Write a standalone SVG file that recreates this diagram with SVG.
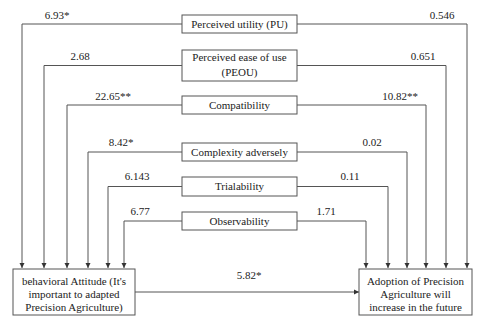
<svg xmlns="http://www.w3.org/2000/svg" width="480" height="322" viewBox="0 0 480 322">
<defs>
<marker id="ah" markerWidth="6" markerHeight="6" refX="5" refY="3" orient="auto" markerUnits="userSpaceOnUse">
<path d="M0,0.5 L5,3 L0,5.5 Z" fill="#333"/>
</marker>
<style>
text{font-family:"Liberation Serif","Times New Roman",serif;font-size:11px;fill:#222}
.c{text-anchor:middle}
rect{fill:#fff;stroke:#555;stroke-width:1}
.ln{fill:none;stroke:#555;stroke-width:1}
</style>
</defs>
<rect x="0" y="0" width="480" height="322" style="stroke:none"/>
<g id="connectors">
<path class="ln" d="M182,24 H22 V268" marker-end="url(#ah)"/>
<path class="ln" d="M182,65.5 H44 V268" marker-end="url(#ah)"/>
<path class="ln" d="M182,105 H67 V268" marker-end="url(#ah)"/>
<path class="ln" d="M182,152 H88 V268" marker-end="url(#ah)"/>
<path class="ln" d="M182,186.5 H108 V268" marker-end="url(#ah)"/>
<path class="ln" d="M182,221 H124 V268" marker-end="url(#ah)"/>
<path class="ln" d="M297,24 H467 V268" marker-end="url(#ah)"/>
<path class="ln" d="M297,65.5 H446 V268" marker-end="url(#ah)"/>
<path class="ln" d="M297,105 H426 V268" marker-end="url(#ah)"/>
<path class="ln" d="M297,152 H407 V268" marker-end="url(#ah)"/>
<path class="ln" d="M297,186.5 H388 V268" marker-end="url(#ah)"/>
<path class="ln" d="M297,221 H366 V268" marker-end="url(#ah)"/>
<path class="ln" d="M135,292 H359" marker-end="url(#ah)"/>
<text x="57" y="19" class="c">6.93*</text>
<text x="80" y="60" class="c">2.68</text>
<text x="113" y="100" class="c">22.65**</text>
<text x="121" y="146" class="c">8.42*</text>
<text x="137" y="180" class="c">6.143</text>
<text x="140" y="215" class="c">6.77</text>
<text x="442" y="19" class="c">0.546</text>
<text x="423" y="60" class="c">0.651</text>
<text x="400" y="100" class="c">10.82**</text>
<text x="372" y="146" class="c">0.02</text>
<text x="350" y="180" class="c">0.11</text>
<text x="326" y="215" class="c">1.71</text>
<text x="249" y="279" class="c">5.82*</text>
</g>
<g id="pu">
<rect x="182" y="15" width="115" height="18"/>
<text x="239.5" y="28" class="c">Perceived utility (PU)</text>
</g>
<g id="peou">
<rect x="182" y="50" width="115" height="31"/>
<text x="239.5" y="61" class="c">Perceived ease of use</text>
<text x="239.5" y="76" class="c">(PEOU)</text>
</g>
<g id="compatibility">
<rect x="182" y="96" width="115" height="18"/>
<text x="239.5" y="108.5" class="c">Compatibility</text>
</g>
<g id="complexity">
<rect x="182" y="143" width="115" height="18"/>
<text x="239.5" y="155.5" class="c">Complexity adversely</text>
</g>
<g id="trialability">
<rect x="182" y="177" width="115" height="19"/>
<text x="239.5" y="190" class="c">Trialability</text>
</g>
<g id="observability">
<rect x="182" y="212" width="115" height="18"/>
<text x="239.5" y="225" class="c">Observability</text>
</g>
<g id="attitude">
<rect x="13" y="269" width="122" height="46"/>
<text x="74" y="285" class="c">behavioral Attitude (It's</text>
<text x="74" y="298" class="c">important to adapted</text>
<text x="74" y="311" class="c">Precision Agriculture)</text>
</g>
<g id="adoption">
<rect x="359" y="269" width="113" height="46"/>
<text x="415.5" y="285" class="c">Adoption of Precision</text>
<text x="415.5" y="298" class="c">Agriculture will</text>
<text x="415.5" y="311" class="c">increase in the future</text>
</g>
</svg>
